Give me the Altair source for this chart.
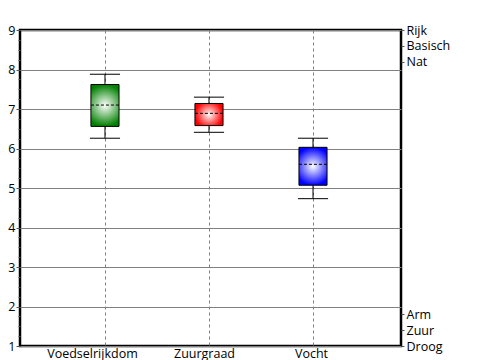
import altair as alt
import pandas as pd

# ---- data ----
categories = ["Voedselrijkdom", "Zuurgraad", "Vocht"]
positions = [1, 2, 3]
low = [6.26, 6.41, 4.73]
q1 = [6.56, 6.58, 5.07]
median = [7.10, 6.89, 5.60]
q3 = [7.62, 7.14, 6.03]
high = [7.88, 7.30, 6.26]
box_colors = ["#008000", "#ff0000", "#0000ff"]

right_values = [9, 8.6, 8.2, 1.8, 1.4, 1]
right_labels = ["Rijk", "Basisch", "Nat", "Arm", "Zuur", "Droog"]

df = pd.DataFrame({"cat": categories, "pos": positions, "low": low, "q1": q1,
                   "median": median, "q3": q3, "high": high})

FONT = "Open Sans"
FS = 12.5

xscale = alt.Scale(domain=[0.183, 3.846], nice=False, zero=False)
yscale = alt.Scale(domain=[1, 9], nice=False, zero=False)

label_map = "{" + ",".join(f"'{p}':'{c}'" for p, c in zip(positions, categories)) + "}"
xaxis = alt.Axis(values=positions, title=None, domain=False, ticks=False,
                 labelExpr=f"{label_map}[format(datum.value, 'd')]", labelFont=FONT,
                 labelFontSize=FS, labelColor="black", labelPadding=1,
                 labelOffset={"condition": [{"test": "datum.value === 1", "value": -13},
                                            {"test": "datum.value === 2", "value": -5}],
                              "value": -2},
                 grid=True, gridColor="#808080", gridDash=[3, 3], gridWidth=1,
                 labelFlush=False)

quarter = [1 + 0.25 * i for i in range(33)]
yaxis_left = alt.Axis(values=quarter, title=None, domain=False,
                      tickSize={"condition": {"test": "datum.value % 1 === 0", "value": 4}, "value": 2},
                      tickColor="#555555", tickWidth=1,
                      labelExpr="datum.value % 1 === 0 ? format(datum.value, 'd') : ''",
                      labelFont=FONT, labelFontSize=FS, labelColor="black", labelPadding=1,
                      grid=True, gridColor="#808080", gridWidth=1,
                      gridOpacity={"condition": {"test": "datum.value % 1 === 0", "value": 1}, "value": 0})

rmap = "{" + ",".join(f"'{v:g}':'{l}'" for v, l in zip(right_values, right_labels)) + "}"
yaxis_right = alt.Axis(orient="right", values=right_values, title=None, domain=False,
                       tickSize=3, tickColor="#555555", tickWidth=1,
                       labelExpr=f"{rmap}[format(datum.value, '~g')]", labelFont=FONT,
                       labelFontSize=FS, labelColor="black", labelPadding=2, grid=False,
                       labelOverlap=False)

base = alt.Chart(df).transform_calculate(
    bl="datum.pos - 0.135", br="datum.pos + 0.135",
    cl="datum.pos - 0.145", cr="datum.pos + 0.145")

whisker = base.mark_rule(color="black", strokeWidth=1).encode(
    x=alt.X("pos:Q", scale=xscale, axis=xaxis),
    y=alt.Y("low:Q", scale=yscale, axis=yaxis_left),
    y2="high:Q")

cap_lo = base.mark_rule(color="black", strokeWidth=1).encode(
    x=alt.X("cl:Q", scale=xscale, axis=xaxis), x2="cr:Q",
    y=alt.Y("low:Q", scale=yscale, axis=None))
cap_hi = base.mark_rule(color="black", strokeWidth=1).encode(
    x=alt.X("cl:Q", scale=xscale, axis=xaxis), x2="cr:Q",
    y=alt.Y("high:Q", scale=yscale, axis=None))

boxes = []
for c, col in zip(categories, box_colors):
    grad = {"gradient": "radial", "x1": 0.5, "y1": 0.5, "r1": 0,
            "x2": 0.5, "y2": 0.5, "r2": 0.5,
            "stops": [{"offset": 0, "color": "#ffffff"}, {"offset": 1, "color": col}]}
    boxes.append(base.transform_filter(alt.datum.cat == c).mark_rect(
        fill=grad, stroke="black", strokeWidth=1).encode(
        x=alt.X("bl:Q", scale=xscale, axis=xaxis), x2="br:Q",
        y=alt.Y("q1:Q", scale=yscale, axis=None), y2="q3:Q"))

med = base.mark_rule(color="black", strokeWidth=1, strokeDash=[3, 2]).encode(
    x=alt.X("bl:Q", scale=xscale, axis=xaxis), x2="br:Q",
    y=alt.Y("median:Q", scale=yscale, axis=yaxis_right))

chart = alt.layer(whisker, cap_lo, cap_hi, *boxes, med).resolve_axis(
    y="independent").properties(
    width=381, height=316,
    autosize=alt.AutoSizeParams(type="none"),
    padding={"left": 12, "top": 22, "right": 80, "bottom": 20},
    background="white",
).configure_view(stroke="black", strokeWidth=2.5)

chart.save("out.html", embed_options={"renderer": "svg", "actions": False})
